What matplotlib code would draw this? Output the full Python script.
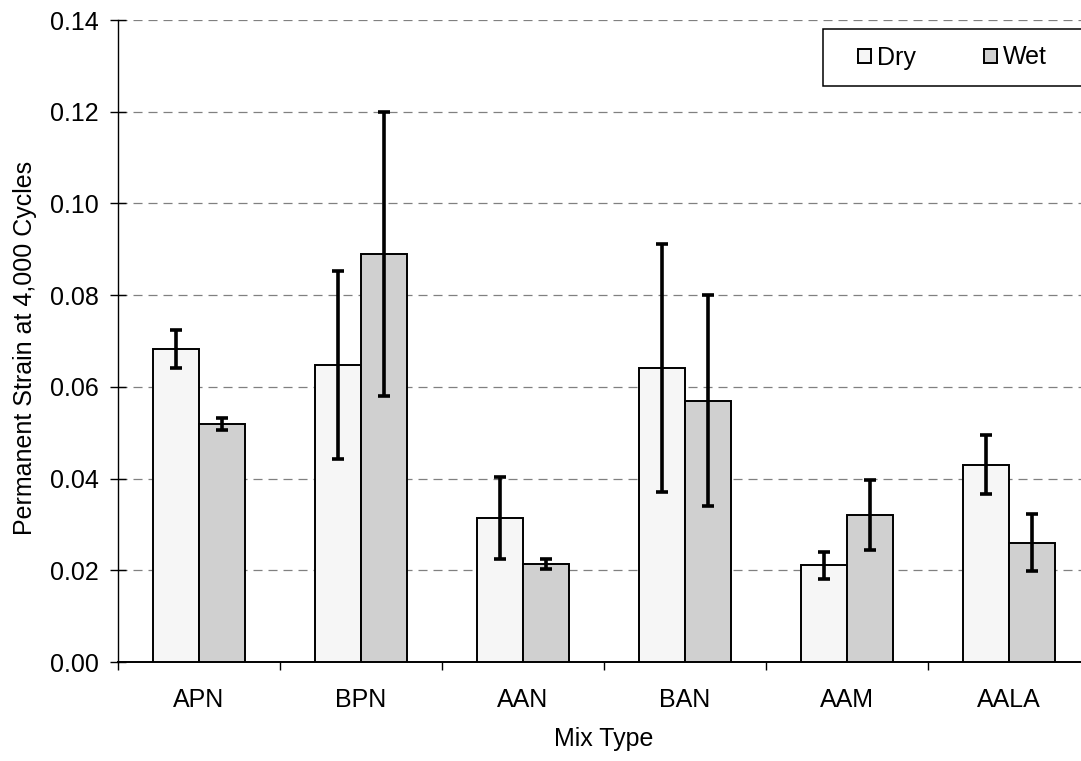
import numpy as np
import matplotlib
matplotlib.use('Agg')
import matplotlib.pyplot as plt
from matplotlib.patches import Rectangle

plt.rcParams['font.family'] = ['Liberation Sans', 'DejaVu Sans']
plt.rcParams['lines.scale_dashes'] = False

# Data
mixes = ['APN', 'BPN', 'AAN', 'BAN', 'AAM', 'AALA']
dry = [0.0683, 0.0648, 0.0314, 0.0641, 0.0211, 0.0430]
dry_err = [0.0042, 0.0205, 0.0090, 0.0270, 0.0029, 0.0064]
wet = [0.0519, 0.0890, 0.0213, 0.0570, 0.0320, 0.0260]
wet_err = [0.0014, 0.0310, 0.0011, 0.0230, 0.0076, 0.0062]

fs = 18

fig = plt.figure(figsize=(10.81, 7.61), dpi=100)
# right edge runs past the picture, like the original
ax = fig.add_axes([118 / 1081, 1 - 662 / 761, 972 / 1081, 642 / 761])

x = np.arange(len(mixes))
w = 0.287
ax.bar(x - w / 2, dry, w, color='#f6f6f6', edgecolor='black', linewidth=1.4,
       label='Dry', zorder=3)
ax.bar(x + w / 2, wet, w, color='#d0d0d0', edgecolor='black', linewidth=1.4,
       label='Wet', zorder=3)
ax.errorbar(x - w / 2, dry, yerr=dry_err, fmt='none', ecolor='black',
            elinewidth=2.6, capsize=4.5, capthick=2.6, zorder=4)
ax.errorbar(x + w / 2, wet, yerr=wet_err, fmt='none', ecolor='black',
            elinewidth=2.6, capsize=4.5, capthick=2.6, zorder=4)

ax.set_xlim(-0.5, len(mixes) - 0.5)
ax.set_ylim(0, 0.14)
ax.set_yticks(np.arange(0, 0.141, 0.02))
ax.set_yticklabels(['%.2f' % v for v in np.arange(0, 0.141, 0.02)])
ax.yaxis.grid(True, linestyle=(0, (6.5, 4.3)), color='#808080', linewidth=0.9)
ax.set_axisbelow(True)

# category labels between boundary ticks
ax.set_xticks(x)
ax.set_xticklabels(mixes)
ax.tick_params(axis='x', length=0, labelsize=fs, pad=18.5)
ax.set_xticks(np.arange(-0.5, len(mixes), 1), minor=True)
ax.tick_params(axis='x', which='minor', length=6, direction='out', width=1)
ax.tick_params(axis='y', labelsize=fs, direction='inout', length=11, width=1, pad=8.5)

for s in ['top', 'right']:
    ax.spines[s].set_visible(False)
ax.spines['left'].set_linewidth(1)
ax.spines['bottom'].set_linewidth(1.4)

ax.set_xlabel('Mix Type', fontsize=fs, labelpad=11)
ax.set_ylabel('Permanent Strain at 4,000 Cycles', fontsize=fs)
ax.yaxis.set_label_coords((37 - 118) / 972, (662 - 348) / 642)

# legend box, open on the right like the original
box_l, box_r = (823 - 118) / 972, (1100 - 118) / 972
box_t, box_b = (662 - 29) / 642, (662 - 86) / 642
ax.add_patch(Rectangle((box_l, box_b), box_r - box_l, box_t - box_b,
                       transform=ax.transAxes, facecolor='white', edgecolor='black',
                       linewidth=1.1, zorder=5, clip_on=False))
leg = ax.legend(ncol=2, loc='center left',
                bbox_to_anchor=((858 - 118) / 972, (box_t + box_b) / 2),
                fontsize=fs, frameon=False, borderpad=0, borderaxespad=0,
                handlelength=0.5, handleheight=0.5, handletextpad=0.25,
                columnspacing=2.75)
leg.set_zorder(6)

fig.savefig('out.png', dpi=100)
